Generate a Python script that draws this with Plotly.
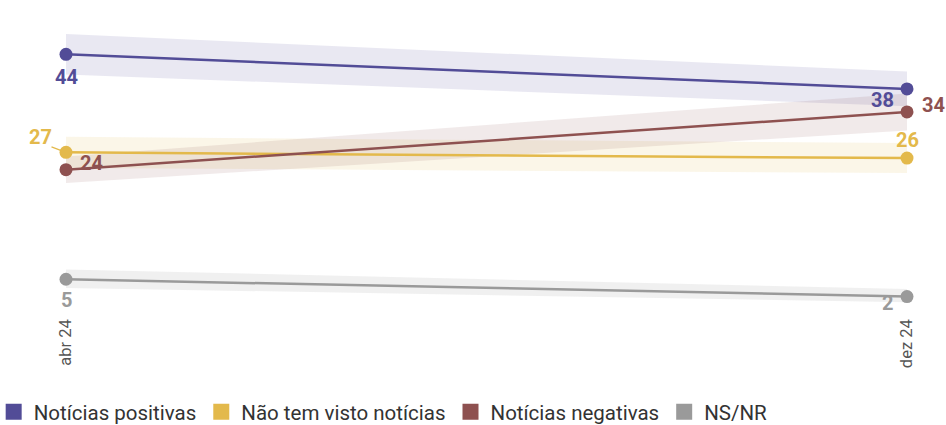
import plotly.graph_objects as go

periods = ["abr 24", "dez 24"]
x_pos = [0, 1]

series_names = ["Notícias positivas", "Não tem visto notícias", "Notícias negativas", "NS/NR"]
series_colors = ["#524c97", "#e3b94b", "#8e5150", "#9a9a9a"]
band_colors = ["rgba(82,76,151,0.13)", "rgba(227,185,75,0.13)",
               "rgba(142,81,80,0.12)", "rgba(154,154,154,0.15)"]

positivas = [44, 38]
nao_visto = [27, 26]
negativas = [24, 34]
nsnr = [5, 2]

positivas_lo = [40.5, 35.0]
positivas_hi = [47.5, 41.0]
nao_visto_lo = [24.3, 23.4]
nao_visto_hi = [29.7, 28.6]
negativas_lo = [21.7, 30.8]
negativas_hi = [26.3, 37.2]
nsnr_lo = [3.5, 1.0]
nsnr_hi = [6.7, 3.3]

values = [positivas, nao_visto, negativas, nsnr]
lows = [positivas_lo, nao_visto_lo, negativas_lo, nsnr_lo]
highs = [positivas_hi, nao_visto_hi, negativas_hi, nsnr_hi]

fig = go.Figure()

# bands
for lo, hi, bc in zip(lows, highs, band_colors):
    fig.add_trace(go.Scatter(x=x_pos, y=hi, mode="lines", line=dict(width=0),
                             showlegend=False, hoverinfo="skip"))
    fig.add_trace(go.Scatter(x=x_pos, y=lo, mode="lines", line=dict(width=0),
                             fill="tonexty", fillcolor=bc,
                             showlegend=False, hoverinfo="skip"))

# lines
for name, vals, col in zip(series_names, values, series_colors):
    fig.add_trace(go.Scatter(x=x_pos, y=vals, mode="lines+markers", name=name,
                             line=dict(color=col, width=2.5),
                             marker=dict(color=col, size=13),
                             cliponaxis=False, showlegend=False))

# legend squares
for name, col in zip(series_names, series_colors):
    fig.add_trace(go.Scatter(x=[None], y=[None], mode="markers", name=name,
                             marker=dict(color=col, symbol="square", size=19)))

lab_font = dict(family="Roboto", size=20, weight="bold")
# (series index, point index, xshift, yshift, xanchor, yanchor)
label_pos = [
    (0, 0, 0, -9, "center", "top"),
    (0, 1, -11, 3, "right", "top"),
    (1, 0, -12, 1, "right", "bottom"),
    (1, 1, 0, 4, "center", "bottom"),
    (2, 0, 12, -7, "left", "bottom"),
    (2, 1, 13, 7, "left", "middle"),
    (3, 0, 0, -7, "center", "top"),
    (3, 1, -12, -6, "right", "middle"),
]
for si, pi, xs, ys, xa, ya in label_pos:
    fig.add_annotation(x=x_pos[pi], y=values[si][pi], text=str(values[si][pi]),
                       showarrow=False, xshift=xs, yshift=ys,
                       xanchor=xa, yanchor=ya,
                       font=dict(color=series_colors[si], **lab_font))
# leader line for 27
fig.add_annotation(x=x_pos[0], y=nao_visto[0], ax=-16, ay=-6, text="",
                   showarrow=True, arrowhead=0, arrowwidth=1.2,
                   arrowcolor=series_colors[1], standoff=5)

fig.update_xaxes(range=[0, 1], tickvals=x_pos, ticktext=periods, tickangle=-90,
                 showgrid=True, gridcolor="#e8e8e8", gridwidth=1,
                 zeroline=False, showline=False, ticks="",
                 tickfont=dict(family="Roboto", size=16.5, color="#555555"))
fig.update_yaxes(range=[-1.2, 52.2], showgrid=False, zeroline=False,
                 showticklabels=False, showline=False)

fig.update_layout(
    width=946, height=425,
    margin=dict(l=66, r=39, t=7, b=110, autoexpand=False),
    plot_bgcolor="white", paper_bgcolor="white",
    font=dict(family="Roboto", color="#333333"),
    legend=dict(orientation="h", x=-0.086, xanchor="left", y=-0.315, yanchor="middle",
                font=dict(family="Roboto", size=20.5, color="#333333"),
                itemwidth=30, tracegroupgap=0, traceorder="normal"),
)

# drop the default page margin so the figure sits at the window corner
fig.write_html("out.html", config={"displayModeBar": False},
               post_script="document.body.style.margin='0';")
